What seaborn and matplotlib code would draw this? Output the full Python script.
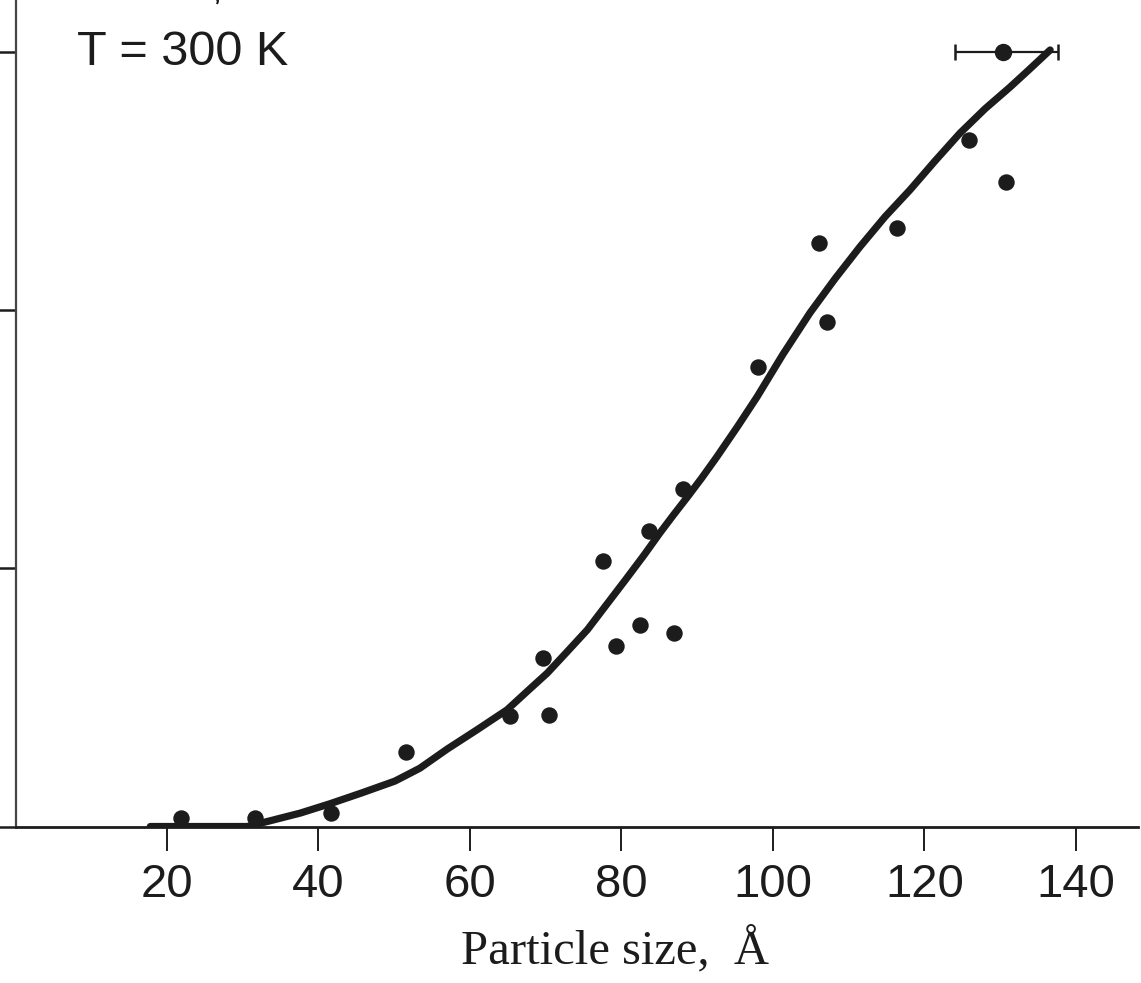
import matplotlib
matplotlib.use("Agg")
import matplotlib.pyplot as plt
import seaborn as sns
import pandas as pd

# measured points: particle size (Å) and ordinate (arbitrary units, top tick = 1.5)
size_pts = [21.9, 31.6, 41.7, 51.6, 65.3, 69.6, 70.4, 77.6, 79.3, 82.4,
            83.6, 86.9, 88.1, 98.0, 106.1, 107.1, 116.4, 125.9, 130.8]
value_pts = [0.016, 0.016, 0.026, 0.144, 0.214, 0.326, 0.216, 0.514, 0.350, 0.390,
             0.572, 0.375, 0.654, 0.890, 1.130, 0.977, 1.159, 1.330, 1.248]

# point with horizontal error bar
err_x = 130.4
err_y = 1.50
err_left = 6.4
err_right = 7.3

# fitted curve
curve_x = [17.8, 30.6, 33.6, 37.6, 41.5, 45.7, 50.1, 53.4, 57.0, 60.9, 64.9,
           67.5, 70.2, 72.8, 75.5, 78.1, 80.7, 83.0, 85.1, 86.9, 88.7, 90.6,
           92.6, 95.3, 97.9, 101.3, 104.9, 108.2, 111.5, 114.8, 118.1, 121.4,
           124.7, 128.0, 131.3, 133.9, 136.6]
curve_y = [0.0, 0.0, 0.011, 0.026, 0.044, 0.065, 0.088, 0.113, 0.150, 0.187, 0.226,
           0.261, 0.297, 0.338, 0.381, 0.431, 0.481, 0.526, 0.569, 0.604, 0.638, 0.675,
           0.716, 0.774, 0.832, 0.914, 0.995, 1.061, 1.123, 1.181, 1.233, 1.289,
           1.343, 1.390, 1.432, 1.467, 1.504]

x_ticks = [20, 40, 60, 80, 100, 120, 140]
y_ticks = [0.0, 0.5, 1.0, 1.5]

sns.set_style("ticks")
plt.rcParams['font.family'] = ['Liberation Sans', 'DejaVu Sans']

ink = "#1c1c1c"

fig = plt.figure(figsize=(11.41, 9.83), dpi=100)
ax = fig.add_axes([15.5 / 1141, 156.5 / 983, (1138 - 15.5) / 1141, 851.9 / 983])

curve_df = pd.DataFrame({"size": curve_x, "value": curve_y})
pts_df = pd.DataFrame({"size": size_pts, "value": value_pts})

sns.lineplot(data=curve_df, x="size", y="value", ax=ax, color=ink,
             linewidth=5.2, sort=False, estimator=None,
             solid_joinstyle="round", solid_capstyle="round")
sns.scatterplot(data=pts_df, x="size", y="value", ax=ax, color=ink,
                s=140, marker="o", edgecolor=ink, linewidth=0, zorder=3)
ax.errorbar([err_x], [err_y], xerr=[[err_left], [err_right]], fmt="o",
            color=ink, markersize=11.5, elinewidth=1.6, capsize=6,
            capthick=1.8, zorder=4, clip_on=False)

ax.set_xlim(0, 148.2)
ax.set_ylim(0, 1.65)
ax.set_xticks(x_ticks)
ax.set_yticks(y_ticks)
ax.set_yticklabels([])
ax.tick_params(axis="x", direction="out", length=17, width=1.4, pad=9,
               labelsize=34, colors=ink)
ax.tick_params(axis="y", direction="out", length=17, width=1.8, colors=ink)

sns.despine(ax=ax, top=True, right=True)
ax.spines["bottom"].set_linewidth(2.0)
ax.spines["left"].set_linewidth(1.6)
ax.spines["bottom"].set_color(ink)
ax.spines["left"].set_color("#444444")

ax.set_xlabel("Particle size,  Å", fontsize=35, family=["Liberation Serif", "DejaVu Serif"],
              color=ink)
ax.xaxis.set_label_coords(0.534, -0.117)
ax.set_ylabel("")

ax.text(0.0548, 0.894, "T = 300 K", transform=ax.transAxes, fontsize=35,
        ha="left", va="baseline", color=ink)
# label above the plot, cut off by the top edge as in the original
ax.text(0.176, 0.972, "ξ", transform=ax.transAxes, fontsize=22,
        ha="center", va="baseline", color=ink, clip_on=False)

fig.savefig("out.png", dpi=100)
